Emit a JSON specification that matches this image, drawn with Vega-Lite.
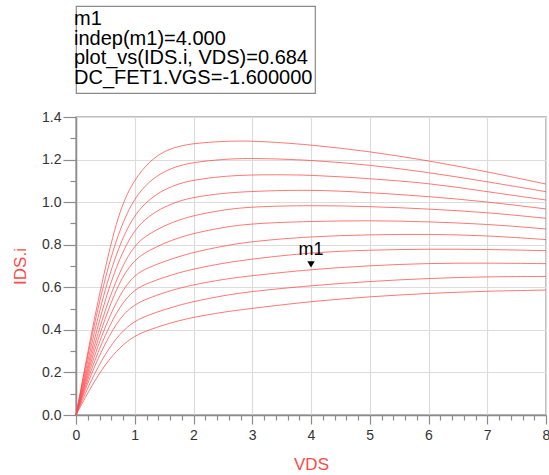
{
  "$schema": "https://vega.github.io/schema/vega-lite/v6.json",
  "padding": {"left": 10, "top": 5, "right": 3, "bottom": 0},
  "spacing": 15,
  "config": {
    "font": "Liberation Sans",
    "view": {"stroke": "#aaaaaa", "strokeWidth": 1.5}
  },
  "vconcat": [
    {
      "width": 239,
      "height": 87,
      "view": {"stroke": "#8a8a8a", "strokeWidth": 1.2},
      "data": {"values": [
        {"row": 1, "txt": "m1"},
        {"row": 2, "txt": "indep(m1)=4.000"},
        {"row": 3, "txt": "plot_vs(IDS.i, VDS)=0.684"},
        {"row": 4, "txt": "DC_FET1.VGS=-1.600000"}
      ]},
      "mark": {"type": "text", "align": "left", "baseline": "middle", "fontSize": 20, "color": "#000000", "dx": -2, "dy": -1},
      "encoding": {
        "x": {"value": 0},
        "y": {"field": "row", "type": "ordinal", "axis": null, "scale": {"type": "point", "padding": 0.68}},
        "text": {"field": "txt"}
      }
    },
    {
      "width": 470,
      "height": 298,
      "layer": [
        {
          "data": {"values": [
            {"VGS": 0, "VDS": 0, "IDS": 0}, {"VGS": 0, "VDS": 0.25, "IDS": 0.37}, {"VGS": 0, "VDS": 0.5, "IDS": 0.7}, {"VGS": 0, "VDS": 0.75, "IDS": 0.975}, {"VGS": 0, "VDS": 1, "IDS": 1.109}, {"VGS": 0, "VDS": 1.25, "IDS": 1.192}, {"VGS": 0, "VDS": 1.5, "IDS": 1.24}, {"VGS": 0, "VDS": 1.75, "IDS": 1.263}, {"VGS": 0, "VDS": 2, "IDS": 1.276}, {"VGS": 0, "VDS": 2.5, "IDS": 1.286}, {"VGS": 0, "VDS": 3, "IDS": 1.289}, {"VGS": 0, "VDS": 4, "IDS": 1.27}, {"VGS": 0, "VDS": 5, "IDS": 1.238}, {"VGS": 0, "VDS": 6, "IDS": 1.195}, {"VGS": 0, "VDS": 7, "IDS": 1.143}, {"VGS": 0, "VDS": 8, "IDS": 1.085},
            {"VGS": -0.2, "VDS": 0, "IDS": 0}, {"VGS": -0.2, "VDS": 0.25, "IDS": 0.35}, {"VGS": -0.2, "VDS": 0.5, "IDS": 0.655}, {"VGS": -0.2, "VDS": 0.75, "IDS": 0.88}, {"VGS": -0.2, "VDS": 1, "IDS": 1.023}, {"VGS": -0.2, "VDS": 1.25, "IDS": 1.099}, {"VGS": -0.2, "VDS": 1.5, "IDS": 1.145}, {"VGS": -0.2, "VDS": 1.75, "IDS": 1.171}, {"VGS": -0.2, "VDS": 2, "IDS": 1.187}, {"VGS": -0.2, "VDS": 2.5, "IDS": 1.202}, {"VGS": -0.2, "VDS": 3, "IDS": 1.207}, {"VGS": -0.2, "VDS": 4, "IDS": 1.198}, {"VGS": -0.2, "VDS": 5, "IDS": 1.175}, {"VGS": -0.2, "VDS": 6, "IDS": 1.14}, {"VGS": -0.2, "VDS": 7, "IDS": 1.096}, {"VGS": -0.2, "VDS": 8, "IDS": 1.049},
            {"VGS": -0.4, "VDS": 0, "IDS": 0}, {"VGS": -0.4, "VDS": 0.25, "IDS": 0.32}, {"VGS": -0.4, "VDS": 0.5, "IDS": 0.6}, {"VGS": -0.4, "VDS": 0.75, "IDS": 0.81}, {"VGS": -0.4, "VDS": 1, "IDS": 0.944}, {"VGS": -0.4, "VDS": 1.25, "IDS": 1.015}, {"VGS": -0.4, "VDS": 1.5, "IDS": 1.059}, {"VGS": -0.4, "VDS": 1.75, "IDS": 1.087}, {"VGS": -0.4, "VDS": 2, "IDS": 1.104}, {"VGS": -0.4, "VDS": 2.5, "IDS": 1.122}, {"VGS": -0.4, "VDS": 3, "IDS": 1.129}, {"VGS": -0.4, "VDS": 4, "IDS": 1.129}, {"VGS": -0.4, "VDS": 5, "IDS": 1.11}, {"VGS": -0.4, "VDS": 6, "IDS": 1.09}, {"VGS": -0.4, "VDS": 7, "IDS": 1.049}, {"VGS": -0.4, "VDS": 8, "IDS": 1.01},
            {"VGS": -0.6, "VDS": 0, "IDS": 0}, {"VGS": -0.6, "VDS": 0.25, "IDS": 0.29}, {"VGS": -0.6, "VDS": 0.5, "IDS": 0.55}, {"VGS": -0.6, "VDS": 0.75, "IDS": 0.745}, {"VGS": -0.6, "VDS": 1, "IDS": 0.874}, {"VGS": -0.6, "VDS": 1.25, "IDS": 0.937}, {"VGS": -0.6, "VDS": 1.5, "IDS": 0.978}, {"VGS": -0.6, "VDS": 1.75, "IDS": 1.005}, {"VGS": -0.6, "VDS": 2, "IDS": 1.023}, {"VGS": -0.6, "VDS": 2.5, "IDS": 1.0425}, {"VGS": -0.6, "VDS": 3, "IDS": 1.051}, {"VGS": -0.6, "VDS": 4, "IDS": 1.059}, {"VGS": -0.6, "VDS": 5, "IDS": 1.045}, {"VGS": -0.6, "VDS": 6, "IDS": 1.027}, {"VGS": -0.6, "VDS": 7, "IDS": 1.002}, {"VGS": -0.6, "VDS": 8, "IDS": 0.968},
            {"VGS": -0.8, "VDS": 0, "IDS": 0}, {"VGS": -0.8, "VDS": 0.25, "IDS": 0.27}, {"VGS": -0.8, "VDS": 0.5, "IDS": 0.5}, {"VGS": -0.8, "VDS": 0.75, "IDS": 0.68}, {"VGS": -0.8, "VDS": 1, "IDS": 0.803}, {"VGS": -0.8, "VDS": 1.25, "IDS": 0.852}, {"VGS": -0.8, "VDS": 1.5, "IDS": 0.889}, {"VGS": -0.8, "VDS": 1.75, "IDS": 0.9165}, {"VGS": -0.8, "VDS": 2, "IDS": 0.937}, {"VGS": -0.8, "VDS": 2.5, "IDS": 0.964}, {"VGS": -0.8, "VDS": 3, "IDS": 0.979}, {"VGS": -0.8, "VDS": 4, "IDS": 0.985}, {"VGS": -0.8, "VDS": 5, "IDS": 0.98}, {"VGS": -0.8, "VDS": 6, "IDS": 0.968}, {"VGS": -0.8, "VDS": 7, "IDS": 0.952}, {"VGS": -0.8, "VDS": 8, "IDS": 0.924},
            {"VGS": -1.0, "VDS": 0, "IDS": 0}, {"VGS": -1.0, "VDS": 0.25, "IDS": 0.25}, {"VGS": -1.0, "VDS": 0.5, "IDS": 0.46}, {"VGS": -1.0, "VDS": 0.75, "IDS": 0.635}, {"VGS": -1.0, "VDS": 1, "IDS": 0.733}, {"VGS": -1.0, "VDS": 1.25, "IDS": 0.774}, {"VGS": -1.0, "VDS": 1.5, "IDS": 0.807}, {"VGS": -1.0, "VDS": 1.75, "IDS": 0.833}, {"VGS": -1.0, "VDS": 2, "IDS": 0.853}, {"VGS": -1.0, "VDS": 2.5, "IDS": 0.882}, {"VGS": -1.0, "VDS": 3, "IDS": 0.9}, {"VGS": -1.0, "VDS": 4, "IDS": 0.91}, {"VGS": -1.0, "VDS": 5, "IDS": 0.914}, {"VGS": -1.0, "VDS": 6, "IDS": 0.908}, {"VGS": -1.0, "VDS": 7, "IDS": 0.897}, {"VGS": -1.0, "VDS": 8, "IDS": 0.874},
            {"VGS": -1.2, "VDS": 0, "IDS": 0}, {"VGS": -1.2, "VDS": 0.25, "IDS": 0.23}, {"VGS": -1.2, "VDS": 0.5, "IDS": 0.42}, {"VGS": -1.2, "VDS": 0.75, "IDS": 0.57}, {"VGS": -1.2, "VDS": 1, "IDS": 0.662}, {"VGS": -1.2, "VDS": 1.25, "IDS": 0.694}, {"VGS": -1.2, "VDS": 1.5, "IDS": 0.7215}, {"VGS": -1.2, "VDS": 1.75, "IDS": 0.744}, {"VGS": -1.2, "VDS": 2, "IDS": 0.764}, {"VGS": -1.2, "VDS": 2.5, "IDS": 0.794}, {"VGS": -1.2, "VDS": 3, "IDS": 0.816}, {"VGS": -1.2, "VDS": 4, "IDS": 0.839}, {"VGS": -1.2, "VDS": 5, "IDS": 0.847}, {"VGS": -1.2, "VDS": 6, "IDS": 0.85}, {"VGS": -1.2, "VDS": 7, "IDS": 0.843}, {"VGS": -1.2, "VDS": 8, "IDS": 0.824},
            {"VGS": -1.4, "VDS": 0, "IDS": 0}, {"VGS": -1.4, "VDS": 0.25, "IDS": 0.21}, {"VGS": -1.4, "VDS": 0.5, "IDS": 0.38}, {"VGS": -1.4, "VDS": 0.75, "IDS": 0.515}, {"VGS": -1.4, "VDS": 1, "IDS": 0.592}, {"VGS": -1.4, "VDS": 1.25, "IDS": 0.622}, {"VGS": -1.4, "VDS": 1.5, "IDS": 0.647}, {"VGS": -1.4, "VDS": 1.75, "IDS": 0.668}, {"VGS": -1.4, "VDS": 2, "IDS": 0.686}, {"VGS": -1.4, "VDS": 2.5, "IDS": 0.7135}, {"VGS": -1.4, "VDS": 3, "IDS": 0.733}, {"VGS": -1.4, "VDS": 4, "IDS": 0.764}, {"VGS": -1.4, "VDS": 5, "IDS": 0.775}, {"VGS": -1.4, "VDS": 6, "IDS": 0.78}, {"VGS": -1.4, "VDS": 7, "IDS": 0.778}, {"VGS": -1.4, "VDS": 8, "IDS": 0.772},
            {"VGS": -1.6, "VDS": 0, "IDS": 0}, {"VGS": -1.6, "VDS": 0.25, "IDS": 0.19}, {"VGS": -1.6, "VDS": 0.5, "IDS": 0.34}, {"VGS": -1.6, "VDS": 0.75, "IDS": 0.46}, {"VGS": -1.6, "VDS": 1, "IDS": 0.521}, {"VGS": -1.6, "VDS": 1.25, "IDS": 0.5505}, {"VGS": -1.6, "VDS": 1.5, "IDS": 0.575}, {"VGS": -1.6, "VDS": 1.75, "IDS": 0.595}, {"VGS": -1.6, "VDS": 2, "IDS": 0.612}, {"VGS": -1.6, "VDS": 2.5, "IDS": 0.6375}, {"VGS": -1.6, "VDS": 3, "IDS": 0.655}, {"VGS": -1.6, "VDS": 4, "IDS": 0.684}, {"VGS": -1.6, "VDS": 5, "IDS": 0.702}, {"VGS": -1.6, "VDS": 6, "IDS": 0.713}, {"VGS": -1.6, "VDS": 7, "IDS": 0.714}, {"VGS": -1.6, "VDS": 8, "IDS": 0.711},
            {"VGS": -1.8, "VDS": 0, "IDS": 0}, {"VGS": -1.8, "VDS": 0.25, "IDS": 0.16}, {"VGS": -1.8, "VDS": 0.5, "IDS": 0.29}, {"VGS": -1.8, "VDS": 0.75, "IDS": 0.385}, {"VGS": -1.8, "VDS": 1, "IDS": 0.443}, {"VGS": -1.8, "VDS": 1.25, "IDS": 0.471}, {"VGS": -1.8, "VDS": 1.5, "IDS": 0.495}, {"VGS": -1.8, "VDS": 1.75, "IDS": 0.5155}, {"VGS": -1.8, "VDS": 2, "IDS": 0.533}, {"VGS": -1.8, "VDS": 2.5, "IDS": 0.561}, {"VGS": -1.8, "VDS": 3, "IDS": 0.581}, {"VGS": -1.8, "VDS": 4, "IDS": 0.608}, {"VGS": -1.8, "VDS": 5, "IDS": 0.628}, {"VGS": -1.8, "VDS": 6, "IDS": 0.642}, {"VGS": -1.8, "VDS": 7, "IDS": 0.65}, {"VGS": -1.8, "VDS": 8, "IDS": 0.651},
            {"VGS": -2.0, "VDS": 0, "IDS": 0}, {"VGS": -2.0, "VDS": 0.25, "IDS": 0.13}, {"VGS": -2.0, "VDS": 0.5, "IDS": 0.24}, {"VGS": -2.0, "VDS": 0.75, "IDS": 0.32}, {"VGS": -2.0, "VDS": 1, "IDS": 0.373}, {"VGS": -2.0, "VDS": 1.25, "IDS": 0.4005}, {"VGS": -2.0, "VDS": 1.5, "IDS": 0.4236}, {"VGS": -2.0, "VDS": 1.75, "IDS": 0.443}, {"VGS": -2.0, "VDS": 2, "IDS": 0.459}, {"VGS": -2.0, "VDS": 2.5, "IDS": 0.4837}, {"VGS": -2.0, "VDS": 3, "IDS": 0.501}, {"VGS": -2.0, "VDS": 4, "IDS": 0.534}, {"VGS": -2.0, "VDS": 5, "IDS": 0.556}, {"VGS": -2.0, "VDS": 6, "IDS": 0.572}, {"VGS": -2.0, "VDS": 7, "IDS": 0.582}, {"VGS": -2.0, "VDS": 8, "IDS": 0.587}
          ]},
          "mark": {"type": "line", "interpolate": "basis", "strokeWidth": 1, "color": "#ff4a4a", "opacity": 0.75},
          "encoding": {
            "x": {
              "field": "VDS", "type": "quantitative",
              "scale": {"domain": [0, 8], "nice": false},
              "axis": {
                "title": "VDS",
                "tickCount": 100,
                "values": [0,0.2,0.4,0.6,0.8,1,1.2,1.4,1.6,1.8,2,2.2,2.4,2.6,2.8,3,3.2,3.4,3.6,3.8,4,4.2,4.4,4.6,4.8,5,5.2,5.4,5.6,5.8,6,6.2,6.4,6.6,6.8,7,7.2,7.4,7.6,7.8,8],
                "labelExpr": "abs(datum.value - round(datum.value)) < 1e-6 ? format(datum.value, 'd') : ''",
                "tickSize": {"condition": {"test": "abs(datum.value - round(datum.value)) < 1e-6", "value": 9}, "value": 5},
                "gridOpacity": {"condition": {"test": "abs(datum.value - round(datum.value)) < 1e-6", "value": 1}, "value": 0},
                "grid": true, "gridColor": "#dcdcdc", "gridWidth": 1.2,
                "domainColor": "#8c8c8c", "domainWidth": 1.5, "tickColor": "#8c8c8c", "tickWidth": 1.2,
                "labelFontSize": 14, "labelColor": "#333333", "labelPadding": 4, "labelOverlap": false, "labelFlush": false,
                "titleColor": "#ff4a4a", "titleFontSize": 17, "titleFontWeight": "normal", "titlePadding": 14
              }
            },
            "y": {
              "field": "IDS", "type": "quantitative",
              "scale": {"domain": [0, 1.4], "nice": false},
              "axis": {
                "title": "IDS.i",
                "tickCount": 100,
                "values": [0,0.1,0.2,0.3,0.4,0.5,0.6,0.7,0.8,0.9,1.0,1.1,1.2,1.3,1.4],
                "labelExpr": "abs(datum.value*5 - round(datum.value*5)) < 1e-6 ? format(datum.value, '.1f') : ''",
                "tickSize": {"condition": {"test": "abs(datum.value*5 - round(datum.value*5)) < 1e-6", "value": 13}, "value": 6},
                "gridOpacity": {"condition": {"test": "abs(datum.value*5 - round(datum.value*5)) < 1e-6", "value": 1}, "value": 0},
                "grid": true, "gridColor": "#dcdcdc", "gridWidth": 1.2,
                "domainColor": "#8c8c8c", "domainWidth": 1.5, "tickColor": "#8c8c8c", "tickWidth": 1.2,
                "labelFontSize": 14, "labelColor": "#333333", "labelPadding": 2, "labelOverlap": false, "labelFlush": false,
                "titleColor": "#ff4a4a", "titleFontSize": 17, "titleFontWeight": "normal", "titlePadding": 12
              }
            },
            "detail": {"field": "VGS", "type": "nominal"}
          }
        },
        {
          "data": {"values": [{"VDS": 4, "IDS": 0.684, "label": "m1"}]},
          "layer": [
            {
              "mark": {"type": "point", "shape": "triangle-down", "filled": true, "color": "#000000", "opacity": 1, "size": 55, "yOffset": -5},
              "encoding": {
                "x": {"field": "VDS", "type": "quantitative"},
                "y": {"field": "IDS", "type": "quantitative"}
              }
            },
            {
              "mark": {"type": "text", "fontSize": 18, "color": "#000000", "baseline": "middle", "dy": -19},
              "encoding": {
                "x": {"field": "VDS", "type": "quantitative"},
                "y": {"field": "IDS", "type": "quantitative"},
                "text": {"field": "label"}
              }
            }
          ]
        }
      ]
    }
  ]
}
